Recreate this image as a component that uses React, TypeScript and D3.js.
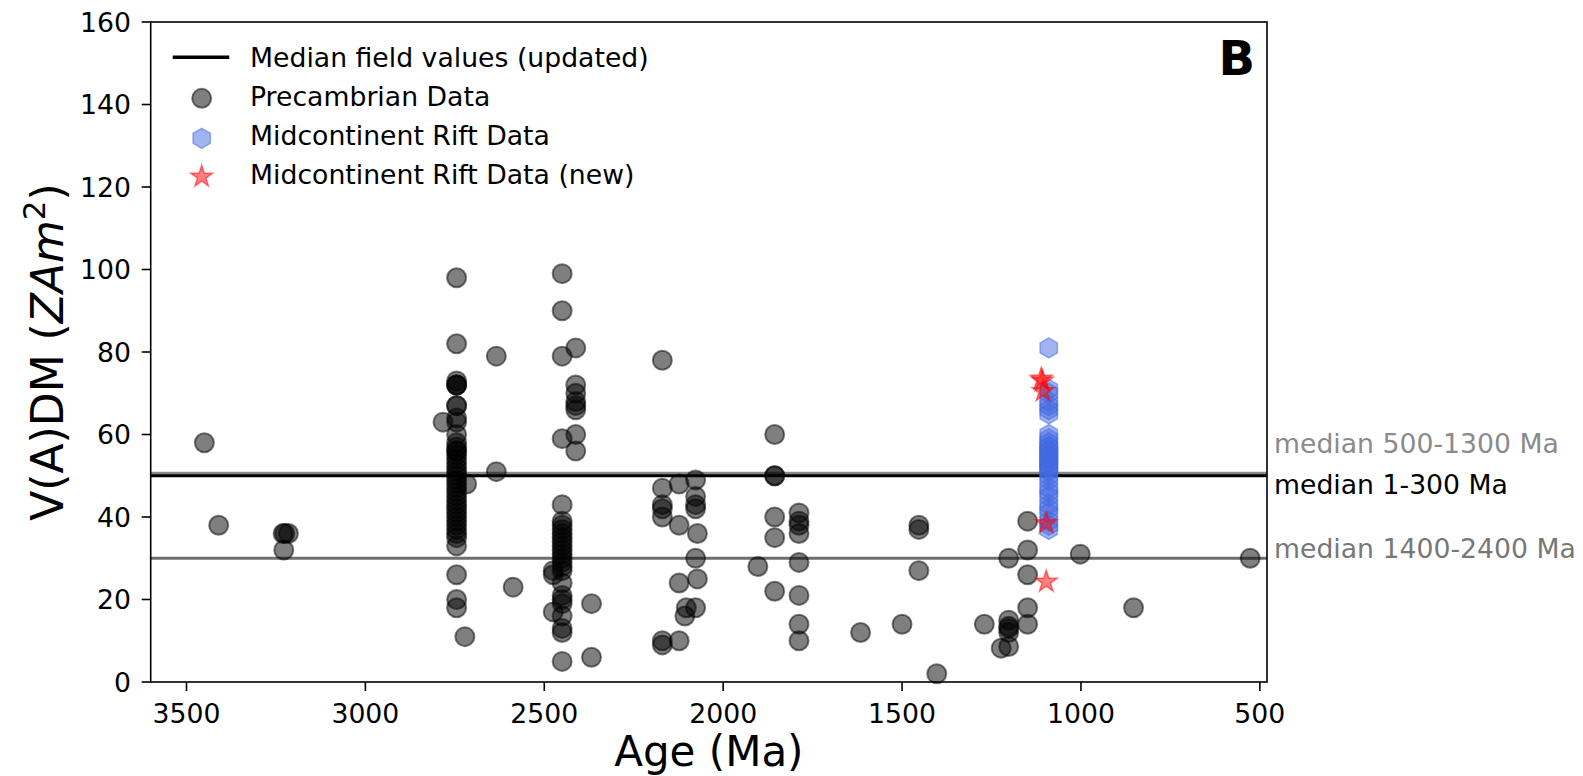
import * as d3 from 'd3';

// Precambrian data (age in Ma, VADM in ZAm^2)
const preAges = [
  3450, 3410, 3230, 3225, 3215, 3228,
  2745, 2745, 2745, 2745, 2745, 2745, 2745, 2745, 2745, 2745, 2745, 2745, 2745, 2745,
  2745, 2745, 2745, 2745, 2745, 2745, 2745, 2745, 2745, 2745, 2745, 2745, 2745, 2745,
  2745, 2745, 2745, 2745, 2745, 2745, 2745, 2745, 2745, 2745, 2745, 2745,
  2783, 2717, 2722, 2634, 2634, 2587,
  2450, 2450, 2450, 2450, 2450, 2450, 2450, 2450, 2450, 2450, 2450, 2450, 2450,
  2450, 2450, 2450, 2450, 2450, 2450, 2450, 2450, 2450, 2450, 2450, 2450, 2450,
  2412, 2412, 2412, 2412, 2412, 2412, 2412, 2412,
  2475, 2475, 2475, 2368, 2368,
  2170, 2170, 2170, 2170, 2170, 2170, 2170,
  2123, 2123, 2123, 2123,
  2077, 2077, 2077, 2077, 2077, 2077, 2072, 2072, 2103, 2107,
  1903, 1856, 1856, 1856, 1856, 1856, 1856,
  1788, 1788, 1788, 1788, 1788, 1788, 1788, 1788,
  1616, 1500, 1403, 1453, 1453, 1453, 1270,
  1202, 1202, 1202, 1202, 1202, 1202, 1223,
  1149, 1149, 1149, 1149, 1149,
  1002, 853, 527,
];
const preVadm = [
  58, 38, 36, 36, 36, 32,
  98, 82, 73, 72, 72, 72, 67, 67, 64, 63, 60, 58, 57, 56,
  56, 55, 54, 53, 52, 51, 50, 49, 48, 47, 46, 45, 44, 43,
  42, 41, 40, 39, 38, 37, 36, 35, 33, 26, 20, 18,
  63, 48, 11, 79, 51, 23,
  99, 90, 79, 59, 43, 39, 38, 37, 36, 35, 34, 33, 32,
  31, 30, 29, 28, 27, 24, 21, 20, 19, 16, 13, 12, 5,
  81, 72, 70, 68, 67, 66, 60, 56,
  27, 26, 17, 19, 6,
  78, 47, 43, 42, 40, 10, 9,
  48, 38, 24, 10,
  49, 45, 43, 42, 30, 18, 36, 25, 18, 16,
  28, 60, 50, 50, 40, 35, 22,
  41, 39, 38, 36, 29, 21, 14, 10,
  12, 14, 2, 38, 37, 27, 14,
  30, 15, 13.5, 13, 12, 8.6, 8.2,
  39, 32, 26, 18, 14,
  31, 18, 30,
];

// Midcontinent Rift data
const mcrAges = [
  1090, 1090, 1090, 1090, 1090, 1090, 1090, 1090, 1090, 1090, 1090, 1090,
  1090, 1090, 1090, 1090, 1090, 1090, 1090, 1090, 1090, 1090, 1090, 1090,
  1090, 1090, 1090, 1090, 1090, 1090, 1090, 1090, 1090, 1090,
];
const mcrVadm = [
  81, 71, 70, 68, 67, 66, 65, 60, 59, 58, 57, 57,
  56, 56, 55, 55, 54, 54, 53, 53, 52, 52, 51, 50,
  49, 47, 46, 45, 43, 42, 41, 39, 38, 37,
];

// Midcontinent Rift data (new)
const newAges = [1111, 1108, 1106, 1097, 1097];
const newVadm = [73.5, 73, 70.5, 38.5, 24.3];

// median lines
const medianValues = [50.6, 50, 30];
const medianLabels = ['median 500-1300 Ma', 'median 1-300 Ma', 'median 1400-2400 Ma'];

const xTicks = [3500, 3000, 2500, 2000, 1500, 1000, 500];
const yTicks = [0, 20, 40, 60, 80, 100, 120, 140, 160];

const legendLabels = [
  'Median field values (updated)',
  'Precambrian Data',
  'Midcontinent Rift Data',
  'Midcontinent Rift Data (new)',
];

const W = 1583;
const H = 776;
const FONT = 'DejaVu Sans, sans-serif';
const FS = 26.7;

const hexPath = (r: number) => {
  const pts = d3.range(6).map((k) => {
    const a = (Math.PI / 3) * k - Math.PI / 2;
    return [r * Math.cos(a), r * Math.sin(a)];
  });
  return 'M' + pts.map((p) => p.join(',')).join('L') + 'Z';
};

const starPath = (R: number) => {
  const r = R * 0.382;
  const pts = d3.range(10).map((k) => {
    const a = (Math.PI / 5) * k - Math.PI / 2;
    const rr = k % 2 === 0 ? R : r;
    return [rr * Math.cos(a), rr * Math.sin(a)];
  });
  return 'M' + pts.map((p) => p.join(',')).join('L') + 'Z';
};

const App = () => {
  const x = d3.scaleLinear().domain([3600, 480]).range([150.7, 1267]);
  const y = d3.scaleLinear().domain([0, 160]).range([682, 22]);
  const [x0, x1] = x.range();
  const [yb, yt] = y.range();

  const hex = hexPath(10);
  const star = starPath(11.5);

  const medianColors = ['#8a8a8a', '#000000', '#6e6e6e'];
  const labelColors = ['#8a8a8a', '#000000', '#777777'];
  const labelY = [453, 494, 558];

  return (
    <svg
      width={W}
      height={H}
      style={{ position: 'absolute', left: 0, top: 0, background: '#fff' }}
      fontFamily={FONT}
    >
      {/* median lines */}
      {medianValues.map((v, i) => (
        <line
          key={'m' + i}
          x1={x0}
          x2={x1}
          y1={y(v)}
          y2={y(v)}
          stroke={medianColors[i]}
          strokeWidth={3.2}
        />
      ))}

      {/* Precambrian */}
      {preAges.map((a, i) => (
        <circle
          key={'p' + i}
          cx={x(a)}
          cy={y(preVadm[i])}
          r={9.5}
          fill="#000"
          fillOpacity={0.5}
          stroke="#000"
          strokeOpacity={0.5}
          strokeWidth={2}
        />
      ))}

      {/* MCR */}
      {mcrAges.map((a, i) => (
        <path
          key={'h' + i}
          d={hex}
          transform={`translate(${x(a)},${y(mcrVadm[i])})`}
          fill="#4169e1"
          fillOpacity={0.5}
          stroke="#4169e1"
          strokeOpacity={0.5}
          strokeWidth={1.5}
        />
      ))}

      {/* MCR new */}
      {newAges.map((a, i) => (
        <path
          key={'s' + i}
          d={star}
          transform={`translate(${x(a)},${y(newVadm[i])})`}
          fill="#ff0000"
          fillOpacity={0.5}
          stroke="#ff0000"
          strokeOpacity={0.5}
          strokeWidth={1.5}
        />
      ))}

      {/* frame */}
      <rect
        x={x0}
        y={yt}
        width={x1 - x0}
        height={yb - yt}
        fill="none"
        stroke="#000"
        strokeWidth={1.6}
      />

      {/* x axis */}
      {xTicks.map((t) => (
        <g key={'xt' + t}>
          <line x1={x(t)} x2={x(t)} y1={yb} y2={yb + 9} stroke="#000" strokeWidth={1.6} />
          <text x={x(t)} y={723} fontSize={FS} textAnchor="middle" fill="#000">
            {t}
          </text>
        </g>
      ))}
      <text x={(x0 + x1) / 2} y={766} fontSize={42} textAnchor="middle" fill="#000">
        Age (Ma)
      </text>

      {/* y axis */}
      {yTicks.map((t) => (
        <g key={'yt' + t}>
          <line x1={x0 - 9} x2={x0} y1={y(t)} y2={y(t)} stroke="#000" strokeWidth={1.6} />
          <text x={131} y={y(t)} dy="0.36em" fontSize={FS} textAnchor="end" fill="#000">
            {t}
          </text>
        </g>
      ))}
      <text
        transform={`translate(63,${(yt + yb) / 2}) rotate(-90)`}
        fontSize={44}
        textAnchor="middle"
        fill="#000"
      >
        V(A)DM (<tspan fontStyle="italic">ZAm</tspan>
        <tspan fontSize={31} dy={-18}>2</tspan>
        <tspan dy={18}>)</tspan>
      </text>

      {/* right labels */}
      {medianLabels.map((l, i) => (
        <text key={'ml' + i} x={1274} y={labelY[i]} fontSize={FS} fill={labelColors[i]}>
          {l}
        </text>
      ))}

      {/* panel letter */}
      <text x={1255} y={75} fontSize={48} fontWeight="bold" textAnchor="end" fill="#000">
        B
      </text>

      {/* legend */}
      <g>
        <line x1={172.7} x2={229.3} y1={57.3} y2={57.3} stroke="#000" strokeWidth={3.5} />
        <circle
          cx={201.7}
          cy={98.3}
          r={9.5}
          fill="#000"
          fillOpacity={0.5}
          stroke="#000"
          strokeOpacity={0.5}
          strokeWidth={2}
        />
        <path
          d={hex}
          transform="translate(201.7,138.3)"
          fill="#4169e1"
          fillOpacity={0.5}
          stroke="#4169e1"
          strokeOpacity={0.5}
          strokeWidth={1.5}
        />
        <path
          d={star}
          transform="translate(201.7,176.7)"
          fill="#ff0000"
          fillOpacity={0.5}
          stroke="#ff0000"
          strokeOpacity={0.5}
          strokeWidth={1.5}
        />
        {legendLabels.map((l, i) => (
          <text key={'lg' + i} x={250} y={67 + i * 39} fontSize={FS} fill="#000">
            {l}
          </text>
        ))}
      </g>
    </svg>
  );
};

export default App;
